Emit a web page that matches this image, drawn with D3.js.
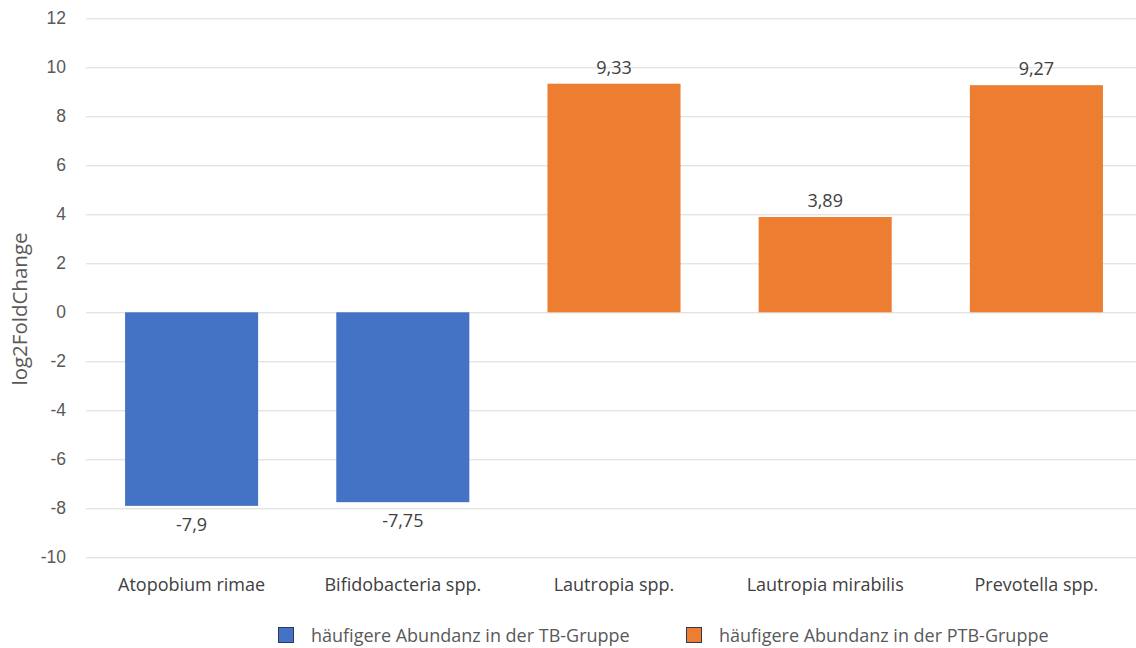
<!DOCTYPE html>
<html>
<head>
<meta charset="utf-8">
<script src="https://cdn.jsdelivr.net/npm/d3@7"></script>
<style>
  html, body { margin: 0; padding: 0; background: #fff; }
  svg { display: block; font-family: "Open Sans", "Lato", sans-serif; }
</style>
</head>
<body>
<svg id="chart" width="1136" height="648"></svg>
<script>
// Differential abundance per taxon (log2 fold change)
const categories = ["Atopobium rimae", "Bifidobacteria spp.", "Lautropia spp.", "Lautropia mirabilis", "Prevotella spp."];
const values = [-7.9, -7.75, 9.33, 3.89, 9.27];
const groups = ["TB", "TB", "PTB", "PTB", "PTB"];
const seriesKeys = ["TB", "PTB"];
const seriesLabels = ["häufigere Abundanz in der TB-Gruppe", "häufigere Abundanz in der PTB-Gruppe"];
const seriesColors = ["#4472C4", "#ED7D31"];
const yTicks = [-10, -8, -6, -4, -2, 0, 2, 4, 6, 8, 10, 12];

const svg = d3.select("#chart");
const plotLeft = 86, plotRight = 1142, plotTop = 18.3, plotBottom = 557.3;

const x = d3.scaleBand().domain(categories).range([plotLeft, plotRight]).paddingInner(0.37).paddingOuter(0.185);
const y = d3.scaleLinear().domain([-10, 12]).range([plotBottom, plotTop]);
const color = d3.scaleOrdinal().domain(seriesKeys).range(seriesColors);
const fmt = v => String(v).replace(".", ",");

// gridlines and tick labels
const yAxis = d3.axisLeft(y).tickValues(yTicks).tickSize(-(plotRight - plotLeft)).tickPadding(20).tickFormat(d => d);
const gy = svg.append("g").attr("transform", `translate(${plotLeft},0)`).call(yAxis);
gy.select(".domain").remove();
gy.selectAll(".tick line").attr("stroke", "#D9D9D9").attr("stroke-width", 1);
gy.selectAll(".tick text").attr("fill", "#595959").style("font-size", "17.5px");

// bars
svg.append("g").selectAll("rect").data(categories).join("rect")
  .attr("x", d => x(d))
  .attr("width", x.bandwidth())
  .attr("y", (d, i) => y(Math.max(0, values[i])))
  .attr("height", (d, i) => Math.abs(y(values[i]) - y(0)))
  .attr("fill", (d, i) => color(groups[i]));

// value labels
svg.append("g").selectAll("text").data(categories).join("text")
  .attr("x", d => x(d) + x.bandwidth() / 2)
  .attr("y", (d, i) => values[i] >= 0 ? y(values[i]) - 10 : y(values[i]) + 25)
  .attr("text-anchor", "middle")
  .attr("fill", "#404040")
  .style("font-size", "18px")
  .text((d, i) => fmt(values[i]));

// category labels
svg.append("g").selectAll("text").data(categories).join("text")
  .attr("x", d => x(d) + x.bandwidth() / 2)
  .attr("y", 591)
  .attr("text-anchor", "middle")
  .attr("fill", "#404040")
  .style("font-size", "18px")
  .text(d => d);

// y axis title
svg.append("text")
  .attr("transform", "translate(27,309) rotate(-90)")
  .attr("text-anchor", "middle")
  .attr("fill", "#595959")
  .style("font-size", "20.5px")
  .text("log2FoldChange");

// legend
const legendX = [278, 686];
const lg = svg.append("g").selectAll("g").data(seriesKeys).join("g")
  .attr("transform", (d, i) => `translate(${legendX[i]},627)`);
lg.append("rect").attr("x", 0.5).attr("y", 0.5).attr("width", 15).attr("height", 15)
  .attr("fill", d => color(d)).attr("stroke", "#2F3B55").attr("stroke-width", 1);
lg.append("text").attr("x", 33).attr("y", 14.5)
  .attr("fill", "#595959").style("font-size", "18px")
  .text((d, i) => seriesLabels[i]);
</script>
</body>
</html>
